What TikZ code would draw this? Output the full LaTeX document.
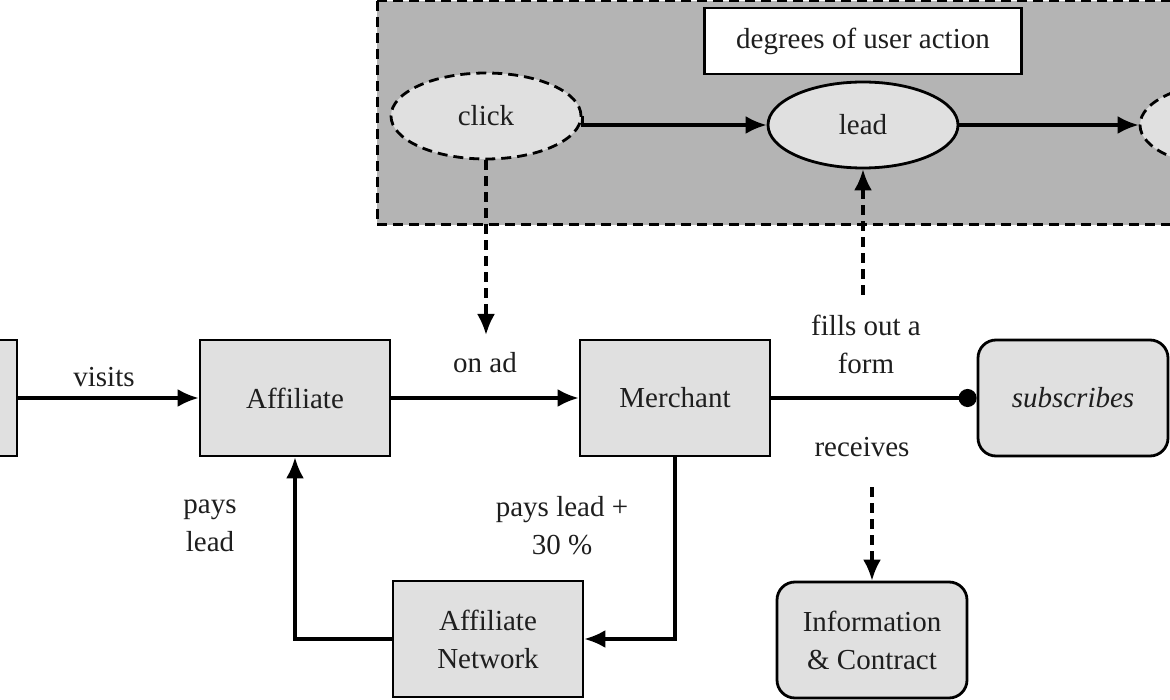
\documentclass[tikz,border=0pt]{standalone}
\usepackage{fontspec}
\setmainfont{Liberation Serif}
\usetikzlibrary{arrows.meta,shapes.geometric}
\definecolor{boxgray}{HTML}{E0E0E0}
\definecolor{areagray}{HTML}{B4B4B4}
\definecolor{txtgray}{HTML}{1E1E1E}
\begin{document}
\begin{tikzpicture}[x=1pt, y=-1pt]
\tikzset{
  every node/.style={font=\fontsize{29}{38}\selectfont, text=txtgray},
  box/.style={draw=black, line width=2.8pt, fill=boxgray, minimum width=190pt, minimum height=116pt, inner sep=0pt, align=center},
  rbox/.style={box, rounded corners=18pt},
  oval/.style={draw=black, line width=2.8pt, ellipse, fill=boxgray, minimum width=190pt, minimum height=86pt, inner sep=0pt},
  dashline/.style={dash pattern=on 10pt off 6pt},
  link/.style={line width=3.2pt, -{Latex[length=21pt,width=18pt]}},
  lbl/.style={align=center},
}
%\draw [lightgray, dashed](0,0) grid (1170,700);
\clip (0,0) rectangle (1170,700);

\draw [line width=3pt, dashline, fill=areagray] (377,1) rectangle (1190,225);

\node [box, fill=white, minimum width=317pt, minimum height=66pt] (D) at (863,41) {degrees of user action};
\node [oval, dashline] (C) at (486,116) {click};
\node [oval] (L) at (863,125) {lead};
\node [oval, dashline] (S) at (1235,125) {};

\node [box] (U) at (-78,398) {};
\node [box] (A) at (295,398) {Affiliate};
\node [box] (M) at (675,398) {Merchant};
\node [rbox] (Sub) at (1073,398) {\textit{subscribes}};
\node [box] (N) at (488,639) {Affiliate\\Network};
\node [rbox] (I) at (872,640) {Information\\\& Contract};

\coordinate (onad) at (486,335);
\coordinate (form) at (863,295);
\coordinate (recv) at (872,487);

\draw [link] (C.east) |- (L);
\draw [link] (L) -- (S);
\draw [link, dashline] (C) -- (onad);
\draw [link, dashline] (form) -- (L);

\draw [link] (U) -- (A);
\draw [link] (A) -- (M);
\draw [link, -{Circle[length=18pt]}] (M) -- (Sub);
\draw [link, dashline] (recv) -- (I);
\draw [link] (M.south) |- (N);
\draw [link] (N) -| (A);

\node [lbl] at (104,377) {visits};
\node [lbl] at (485,363) {on ad};
\node [lbl] at (866,344) {fills out a\\form};
\node [lbl] at (862,447) {receives};
\node [lbl] at (562,526) {pays lead +\\30 \%};
\node [lbl] at (210,526) {pays\\lead};

\end{tikzpicture}
\end{document}
